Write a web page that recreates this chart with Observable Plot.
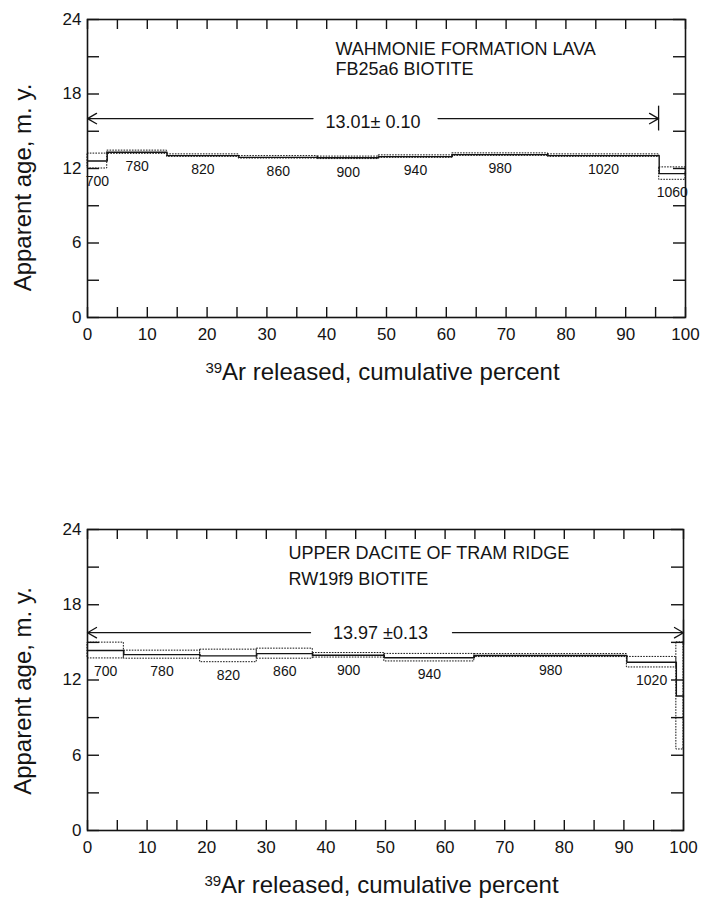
<!DOCTYPE html>
<html><head><meta charset="utf-8">
<script src="https://cdn.jsdelivr.net/npm/d3@7"></script>
<script src="https://cdn.jsdelivr.net/npm/@observablehq/plot@0.6"></script>
<style>
body{margin:0;background:#fff;}
#chart svg{display:block;}
</style></head><body><div id="chart"></div>
<script>
// ---- Panel A: Wahmonie Formation lava, FB25a6 biotite ----
const titleA = ["WAHMONIE FORMATION LAVA", "FB25a6 BIOTITE"];
const tempsA = ["700","780","820","860","900","940","980","1020","1060"];
const cumA   = [0, 3.3, 13.3, 25.3, 38.5, 48.7, 61, 77, 95.6, 100];
const ageA   = [12.6, 13.31, 13.04, 12.9, 12.86, 12.96, 13.12, 13.04, 11.59];
const errA   = [0.6, 0.13, 0.1, 0.1, 0.1, 0.1, 0.1, 0.1, 0.5];
const plateauTextA = "13.01\u00b1 0.10";
const plateauA = [0, 95.5, 16.02]; // start %, end %, drawn level

// ---- Panel B: Upper dacite of Tram Ridge, RW19f9 biotite ----
const titleB = ["UPPER DACITE OF TRAM RIDGE", "RW19f9 BIOTITE"];
const tempsB = ["700","780","820","860","900","940","980","1020",""];
const cumB   = [0, 6.1, 18.9, 28.4, 37.8, 49.8, 64.9, 90.5, 98.8, 100];
const ageB   = [14.35, 14.02, 13.92, 14.1, 13.97, 13.78, 13.95, 13.42, 10.73];
const errB   = [0.63, 0.32, 0.5, 0.4, 0.18, 0.3, 0.12, 0.42, 4.27];
const plateauTextB = "13.97 \u00b10.13";
const plateauB = [0, 100, 15.77];

// ---- shared axes ----
const xMinorTicks = [0,5,10,15,20,25,30,35,40,45,50,55,60,65,70,75,80,85,90,95,100];
const xTickLabels = [0,10,20,30,40,50,60,70,80,90,100];
const yMinorTicks = [0,3,6,9,12,15,18,21,24];
const yTickLabels = [0,6,12,18,24];
const yTitle = "Apparent age, m. y.";
const xTitleSup = "39";
const xTitleMain = "Ar released, cumulative percent";

const FONT = "'Liberation Sans', Arimo, Arial, Helvetica, sans-serif";
const INK = "#141414";

function panel(cfg) {
  const steps = cfg.temps.map((t, i) => ({temp: t, x1: cfg.cum[i], x2: cfg.cum[i + 1], age: cfg.age[i], err: cfg.err[i]}));
  const path = steps.flatMap(s => [{x: s.x1, y: s.age}, {x: s.x2, y: s.age}]);
  const pl = [{start: cfg.plateau[0], end: cfg.plateau[1], level: cfg.plateau[2], label: cfg.plateauText}];
  const fh = cfg.height - cfg.mt - cfg.mb;
  const fw = 701 - 87 - cfg.mr;
  const svg = Plot.plot({
    width: 701, height: cfg.height,
    marginLeft: 87, marginRight: cfg.mr, marginTop: cfg.mt, marginBottom: cfg.mb,
    style: {fontFamily: FONT, color: INK, background: "#fff", overflow: "visible"},
    x: {domain: [0, 100], label: null},
    y: {domain: [0, 24], label: null},
    marks: [
      Plot.frame({stroke: INK, strokeWidth: 1.6}),
      Plot.tickX(xMinorTicks, {x: d => d, insetTop: fh - 10, stroke: INK, strokeWidth: 1.4}),
      Plot.tickX(xMinorTicks, {x: d => d, insetBottom: fh - 10, stroke: INK, strokeWidth: 1.4}),
      Plot.tickY(yMinorTicks, {y: d => d, insetRight: fw - 12, stroke: INK, strokeWidth: 1.4}),
      Plot.tickY(yMinorTicks, {y: d => d, insetLeft: fw - 12, stroke: INK, strokeWidth: 1.4}),
      Plot.axisX(xTickLabels, {tickSize: 0, tickPadding: 10, fontSize: 17, label: null}),
      Plot.axisY(yTickLabels, {tickSize: 0, tickPadding: 6, fontSize: 17, label: null}),
      // error boxes (dotted) and age spectrum (solid step line)
      Plot.rect(steps, {x1: "x1", x2: "x2", y1: d => d.age - d.err, y2: d => d.age + d.err,
        fill: "none", stroke: INK, strokeWidth: 1, strokeDasharray: "1.6,1.2"}),
      Plot.line(path, {x: "x", y: "y", stroke: INK, strokeWidth: 1.4}),
      Plot.text(steps.filter(s => s.temp), {x: d => (d.x1 + d.x2) / 2, y: d => d.age - d.err,
        text: "temp", dy: 13, fontSize: 14, fill: INK}),
      // plateau arrows
      Plot.arrow(pl, {x1: d => (d.start + d.end) / 2, x2: "start", y1: "level", y2: "level",
        insetStart: cfg.gapL, headLength: 12, stroke: INK, strokeWidth: 1.3}),
      Plot.arrow(pl, {x1: d => (d.start + d.end) / 2, x2: "end", y1: "level", y2: "level",
        insetStart: cfg.gapR, headLength: 12, stroke: INK, strokeWidth: 1.3}),
      Plot.ruleX(pl, {x: "end", y1: d => d.level - 1, y2: d => d.level + 1, stroke: INK, strokeWidth: 1.3}),
      Plot.text(pl, {x: d => (d.start + d.end) / 2, y: "level", text: "label", dx: cfg.plDx, dy: cfg.plDy, fontSize: 18, fill: INK}),
      // sample titles
      Plot.text([cfg.title[0]], {frameAnchor: "top-left", textAnchor: "start", lineAnchor: "top",
        dx: cfg.tDx, dy: cfg.tDy1, fontSize: 18, fill: INK}),
      Plot.text([cfg.title[1]], {frameAnchor: "top-left", textAnchor: "start", lineAnchor: "top",
        dx: cfg.tDx, dy: cfg.tDy2, fontSize: 18, fill: INK}),
      // axis titles
      Plot.text([yTitle], {frameAnchor: "left", textAnchor: "middle", lineAnchor: "middle", rotate: -90,
        dx: -64, dy: cfg.yDy, fontSize: 24, fill: INK}),
      Plot.text([xTitleSup + xTitleMain], {frameAnchor: "bottom", textAnchor: "middle", lineAnchor: "top",
        dx: -4, dy: 45, fontSize: 24, fill: INK})
    ]
  });
  d3.select(svg).selectAll("text")
    .filter(function () { return this.textContent === xTitleSup + xTitleMain; })
    .each(function () {
      const t = d3.select(this);
      t.text("");
      t.append("tspan").attr("font-size", 15).attr("dy", -6.5).text(xTitleSup);
      t.append("tspan").attr("dy", 6.5).text(xTitleMain);
    });
  return svg;
}

const root = document.getElementById("chart");
root.appendChild(panel({
  height: 450, mt: 19, mb: 133, mr: 16,
  temps: tempsA, cum: cumA, age: ageA, err: errA,
  plateau: plateauA, plateauText: plateauTextA, gapL: 60, gapR: 65, plDx: 0, plDy: 3.5,
  title: titleA, tDx: 248, tDy1: 23.2, tDy2: 43.2, yDy: 19
}));
root.appendChild(panel({
  height: 450, mt: 79, mb: 70, mr: 18,
  temps: tempsB, cum: cumB, age: ageB, err: errB,
  plateau: plateauB, plateauText: plateauTextB, gapL: 75, gapR: 67, plDx: -5, plDy: 1,
  title: titleB, tDx: 201, tDy1: 17.2, tDy2: 43.2, yDy: 11
}));
</script></body></html>
